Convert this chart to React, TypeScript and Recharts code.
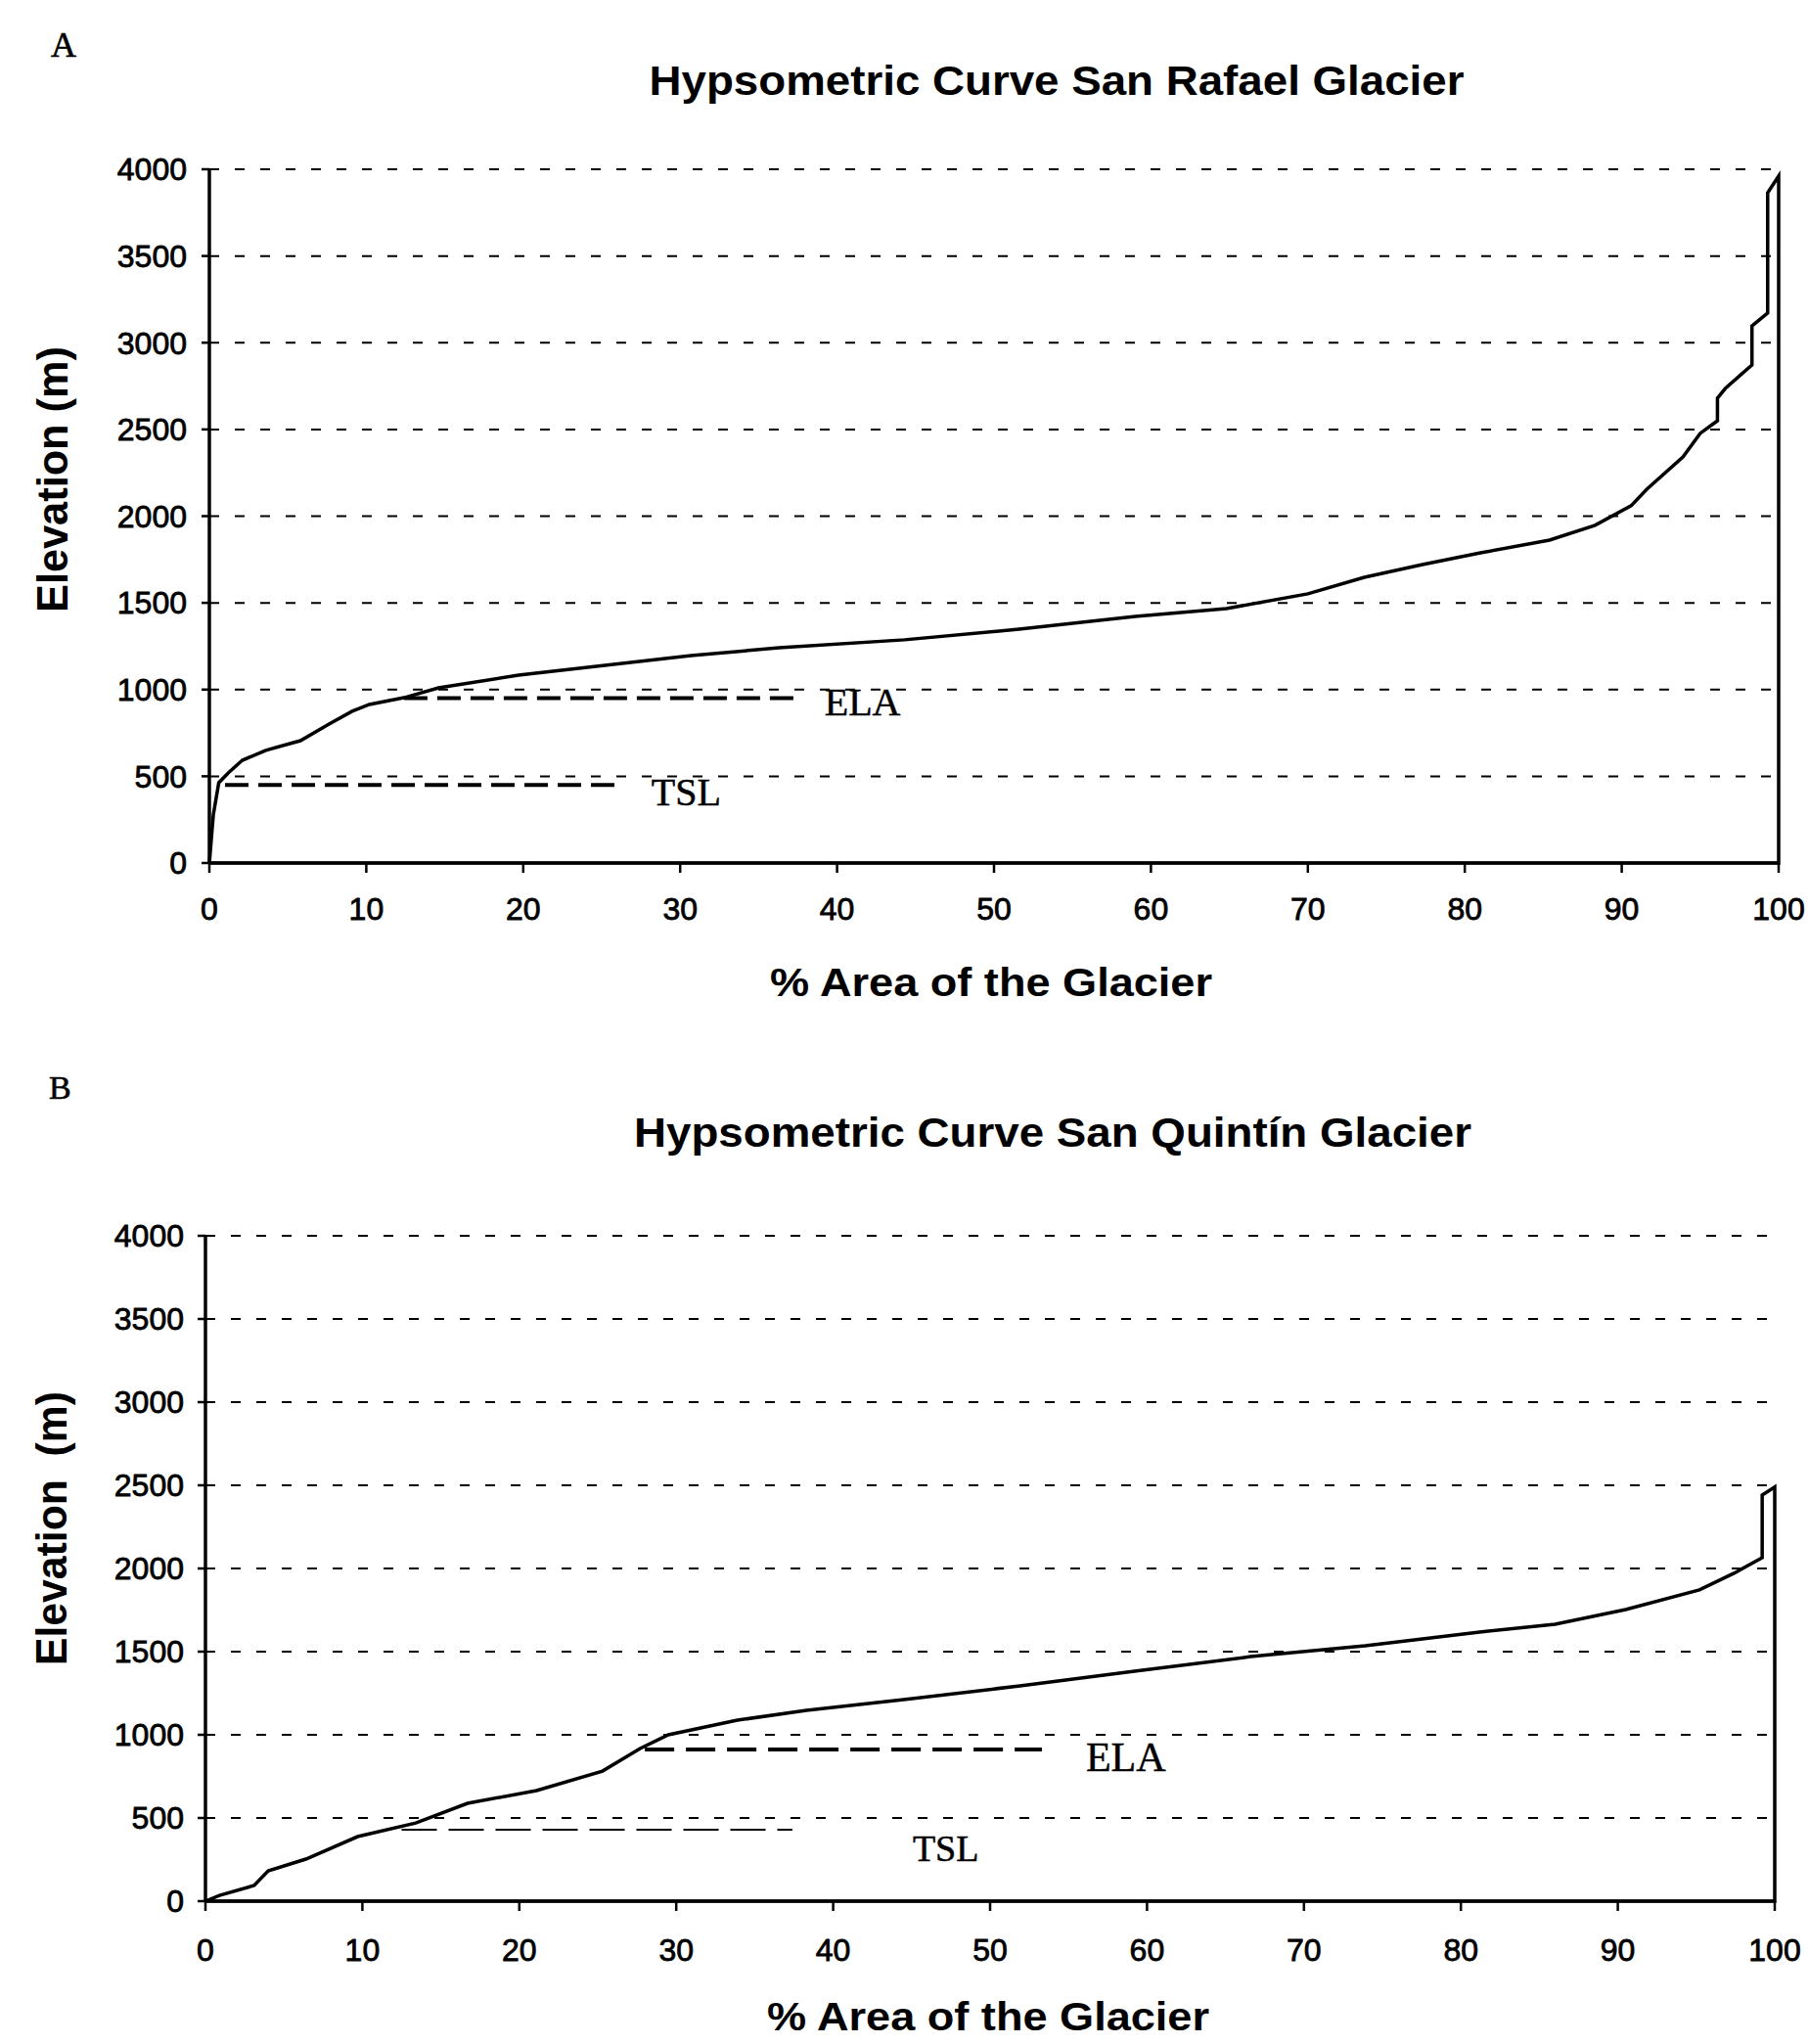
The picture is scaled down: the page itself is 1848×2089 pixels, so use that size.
import { LineChart, Line, XAxis, YAxis, CartesianGrid, ReferenceLine } from 'recharts'

document.body.style.margin = '0'

const SANS = '"Liberation Sans", Arial, sans-serif'
const SERIF = '"Liberation Serif", "Times New Roman", serif'

// A: San Rafael — closed outline (curve up, down the 100 % edge, back along 0)
const rafaelArea = [0, 0.25, 0.6, 1.2, 2.1, 3.6, 5.8, 7.6, 9.1, 10.2, 12.4, 14.6, 19.7, 25.2, 30.7, 36.3, 44.3, 51.6, 59.0, 64.8, 70.0, 73.6, 77.3, 81.0, 85.4, 88.3, 90.6, 91.6, 93.9, 95.0, 96.1, 96.1, 96.6, 98.3, 98.3, 99.3, 99.3, 100, 100, 0]
const rafaelElev = [0, 276, 463, 519, 592, 650, 705, 800, 875, 914, 953, 1010, 1083, 1140, 1196, 1241, 1287, 1348, 1422, 1467, 1552, 1647, 1721, 1788, 1862, 1947, 2060, 2155, 2341, 2477, 2550, 2680, 2736, 2872, 3097, 3171, 3865, 3961, 0, 0]

// B: San Quintín
const quintinArea = [0, 0.9, 3.1, 4.0, 6.4, 9.7, 13.4, 16.7, 21.1, 25.3, 27.7, 29.5, 33.9, 38.3, 44.5, 51.9, 59.2, 66.6, 73.9, 81.2, 86.0, 90.5, 95.2, 97.4, 99.2, 99.2, 100, 100, 0]
const quintinElev = [0, 35, 94, 182, 253, 388, 470, 588, 665, 782, 918, 1000, 1088, 1147, 1212, 1294, 1382, 1470, 1535, 1618, 1665, 1753, 1871, 1971, 2065, 2441, 2490, 0, 0]

// [from %, to %, elevation]
const rafaelEla = [12.4, 37.7, 950]
const rafaelTsl = [1, 26.3, 450]
const quintinEla = [28.0, 53.3, 912]
const quintinTsl = [12.5, 37.4, 430]

const areaTicks = [0, 10, 20, 30, 40, 50, 60, 70, 80, 90, 100]
const elevTicks = [0, 500, 1000, 1500, 2000, 2500, 3000, 3500, 4000]

const toPoints = (area: number[], elev: number[]) => area.map((x, i) => ({ x, y: elev[i] }))

function EndLabel(props: any) {
  const { viewBox, text, gapX, gapY, size } = props
  if (!viewBox) return null
  return (
    <text
      x={viewBox.x + viewBox.width + gapX}
      y={viewBox.y + gapY}
      fontFamily={SERIF}
      fontSize={size}
      fill="#000"
      stroke="#000"
      strokeWidth={0.5}
    >
      {text}
    </text>
  )
}

interface LineStyle {
  dash: string
  width: number
  gapX: number
  gapY: number
  size: number
}

interface HypsoProps {
  area: number[]
  elev: number[]
  ela: number[]
  tsl: number[]
  height: number
  margin: { top: number; right: number; bottom: number; left: number }
  xTickMargin: number
  yTickMargin: number
  elaStyle: LineStyle
  tslStyle: LineStyle
}

function Hypso({ area, elev, ela, tsl, height, margin, xTickMargin, yTickMargin, elaStyle, tslStyle }: HypsoProps) {
  // scanned labels look heavier than plain regular weight
  const tick = { fill: '#000', fontSize: 32, fontFamily: SANS, stroke: '#000', strokeWidth: 0.8 }
  return (
    <LineChart width={1848} height={height} data={toPoints(area, elev)} margin={margin}>
      <CartesianGrid horizontal vertical={false} stroke="#000" strokeWidth={2} strokeDasharray="10 16" />
      <XAxis
        type="number"
        dataKey="x"
        domain={[0, 100]}
        ticks={areaTicks}
        interval={0}
        height={80}
        tick={tick}
        tickSize={10}
        tickMargin={xTickMargin}
        axisLine={{ stroke: '#000', strokeWidth: 3 }}
        tickLine={{ stroke: '#000', strokeWidth: 2.5 }}
      />
      <YAxis
        type="number"
        domain={[0, 4000]}
        ticks={elevTicks}
        interval={0}
        width={120}
        tick={tick}
        tickSize={8}
        tickMargin={yTickMargin}
        axisLine={{ stroke: '#000', strokeWidth: 3.5 }}
        tickLine={{ stroke: '#000', strokeWidth: 2.5 }}
      />
      <ReferenceLine
        segment={[{ x: ela[0], y: ela[2] }, { x: ela[1], y: ela[2] }]}
        stroke="#000"
        strokeWidth={elaStyle.width}
        strokeDasharray={elaStyle.dash}
        label={<EndLabel text="ELA" gapX={elaStyle.gapX} gapY={elaStyle.gapY} size={elaStyle.size} />}
      />
      <ReferenceLine
        segment={[{ x: tsl[0], y: tsl[2] }, { x: tsl[1], y: tsl[2] }]}
        stroke="#000"
        strokeWidth={tslStyle.width}
        strokeDasharray={tslStyle.dash}
        label={<EndLabel text="TSL" gapX={tslStyle.gapX} gapY={tslStyle.gapY} size={tslStyle.size} />}
      />
      <Line
        type="linear"
        dataKey="y"
        stroke="#000"
        strokeWidth={3.5}
        dot={false}
        activeDot={false}
        isAnimationActive={false}
      />
    </LineChart>
  )
}

export default function App() {
  return (
    <div style={{ position: 'relative', width: 1848, height: 2089, background: '#fff', overflow: 'hidden' }}>
      <div style={{ position: 'absolute', left: 0, top: 0 }}>
        <Hypso
          area={rafaelArea}
          elev={rafaelElev}
          ela={rafaelEla}
          tsl={rafaelTsl}
          height={1040}
          margin={{ top: 173, right: 30, bottom: 78, left: 94 }}
          xTickMargin={25}
          yTickMargin={15}
          elaStyle={{ dash: '24 10', width: 4, gapX: 24, gapY: 17, size: 40 }}
          tslStyle={{ dash: '24 10', width: 4, gapX: 30, gapY: 21, size: 40 }}
        />
      </div>
      <div style={{ position: 'absolute', left: 0, top: 1040 }}>
        <Hypso
          area={quintinArea}
          elev={quintinElev}
          ela={quintinEla}
          tsl={quintinTsl}
          height={1049}
          margin={{ top: 223, right: 34, bottom: 66, left: 90 }}
          xTickMargin={28}
          yTickMargin={14}
          elaStyle={{ dash: '30 12', width: 4, gapX: 45, gapY: 22, size: 42 }}
          tslStyle={{ dash: '36 12', width: 2, gapX: 123, gapY: 32, size: 38 }}
        />
      </div>
      {/* 标题与轴名 */}
      <svg width={1848} height={2089} style={{ position: 'absolute', left: 0, top: 0, pointerEvents: 'none' }}>
        <text x={52} y={58} fontFamily={SERIF} fontSize={36} fill="#000" stroke="#000" strokeWidth={0.6}>A</text>
        <text x={1080} y={97} textAnchor="middle" fontFamily={SANS} fontWeight="bold" fontSize={42}
          textLength={833} lengthAdjust="spacingAndGlyphs" fill="#000">
          Hypsometric Curve San Rafael Glacier
        </text>
        <text transform="translate(53,490) rotate(-90)" textAnchor="middle" dominantBaseline="central"
          fontFamily={SANS} fontWeight="bold" fontSize={44} textLength={272} lengthAdjust="spacingAndGlyphs" fill="#000">
          Elevation (m)
        </text>
        <text x={1013} y={1018} textAnchor="middle" fontFamily={SANS} fontWeight="bold" fontSize={40}
          textLength={452} lengthAdjust="spacingAndGlyphs" fill="#000">
          % Area of the Glacier
        </text>

        <text x={50} y={1123} fontFamily={SERIF} fontSize={34} fill="#000" stroke="#000" strokeWidth={0.6}>B</text>
        <text x={1076} y={1172} textAnchor="middle" fontFamily={SANS} fontWeight="bold" fontSize={42}
          textLength={856} lengthAdjust="spacingAndGlyphs" fill="#000">
          Hypsometric Curve San Quintín Glacier
        </text>
        <text transform="translate(52,1562) rotate(-90)" textAnchor="middle" dominantBaseline="central"
          fontFamily={SANS} fontWeight="bold" fontSize={44} textLength={280} lengthAdjust="spacingAndGlyphs"
          fill="#000" style={{ whiteSpace: 'pre' }}>
          Elevation  (m)
        </text>
        <text x={1010} y={2075} textAnchor="middle" fontFamily={SANS} fontWeight="bold" fontSize={40}
          textLength={452} lengthAdjust="spacingAndGlyphs" fill="#000">
          % Area of the Glacier
        </text>
      </svg>
    </div>
  )
}
